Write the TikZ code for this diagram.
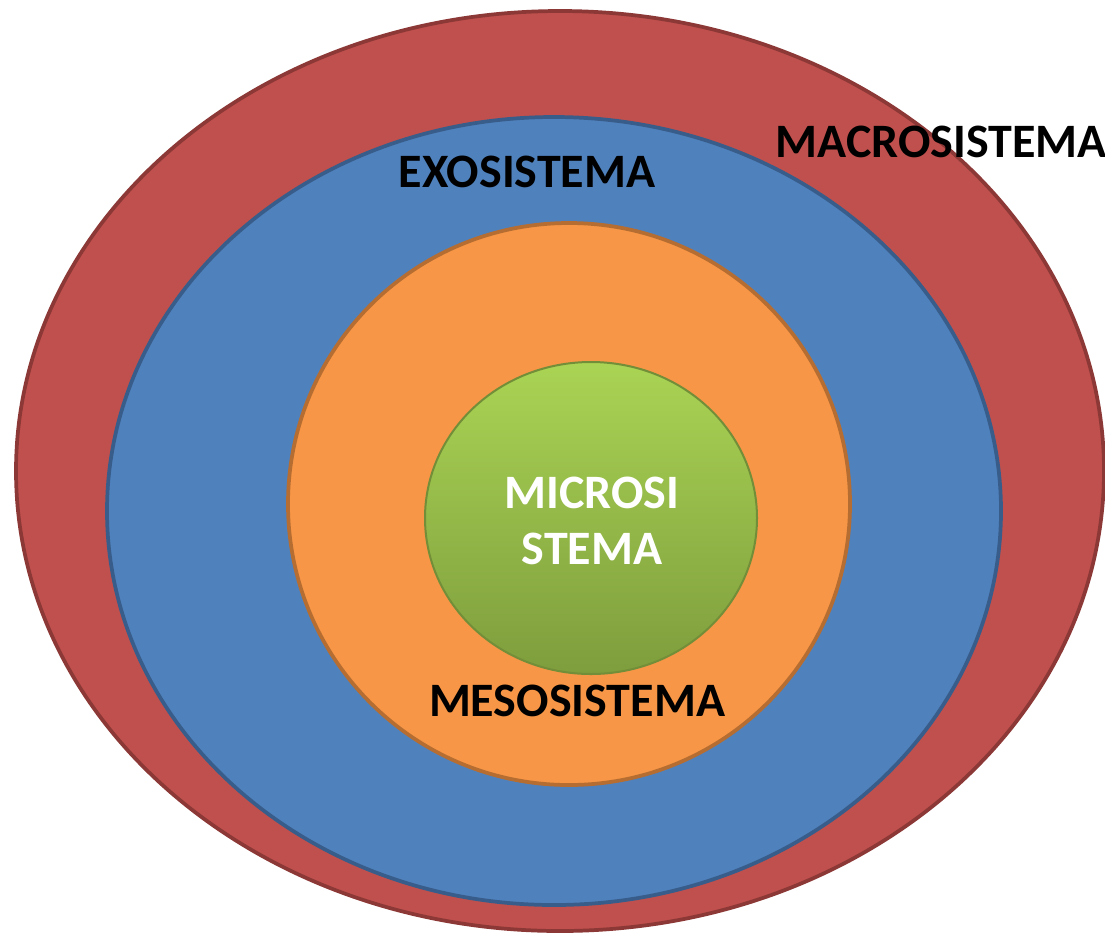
\documentclass[tikz,border=0pt]{standalone}
\usepackage{fontspec}
\setmainfont{Carlito}
\usepackage{tikz}
\usetikzlibrary{positioning}

\definecolor{macroRed}{HTML}{C0504D}
\definecolor{macroLine}{HTML}{8C3836}
\definecolor{exoBlue}{HTML}{4F81BD}
\definecolor{exoLine}{HTML}{385D8A}
\definecolor{mesoOrange}{HTML}{F79646}
\definecolor{mesoLine}{HTML}{B66D31}
\definecolor{microTop}{HTML}{AAD454}
\definecolor{microBottom}{HTML}{7E9D3D}
\definecolor{microLine}{HTML}{728E38}

\begin{document}
\begin{tikzpicture}[
        x=0.75pt, y=-0.75pt,
        layer/.style={line width=2.8pt},
        label/.style={font=\fontsize{36}{42}\selectfont\bfseries, text=black, inner sep=0pt, align=center}, % system names
        inlabel/.style={label, text=white}
    ]
    \useasboundingbox (0,0) rectangle (1105,933);
    % the four nested systems
    \draw[layer, draw=macroLine, fill=macroRed] (560,471) ellipse [x radius=544, y radius=460];
    \draw[layer, draw=exoLine, fill=exoBlue] (554,511) ellipse [x radius=447, y radius=394];
    \draw[layer, draw=mesoLine, fill=mesoOrange] (569,504) ellipse [x radius=281, y radius=281];
    \draw[layer, line width=1.5pt, draw=microLine, top color=microTop, bottom color=microBottom] (591,518) ellipse [x radius=166, y radius=156];
    % labels
    \node[label] (macro) at (941,142) {MACROSISTEMA};
    \node[label] (exo) at (527,172) {EXOSISTEMA};
    \node[label] (meso) at (577,701) {MESOSISTEMA};
    \node[inlabel] (micro) at (592,521) {MICROSI\\STEMA};
\end{tikzpicture}
\end{document}
